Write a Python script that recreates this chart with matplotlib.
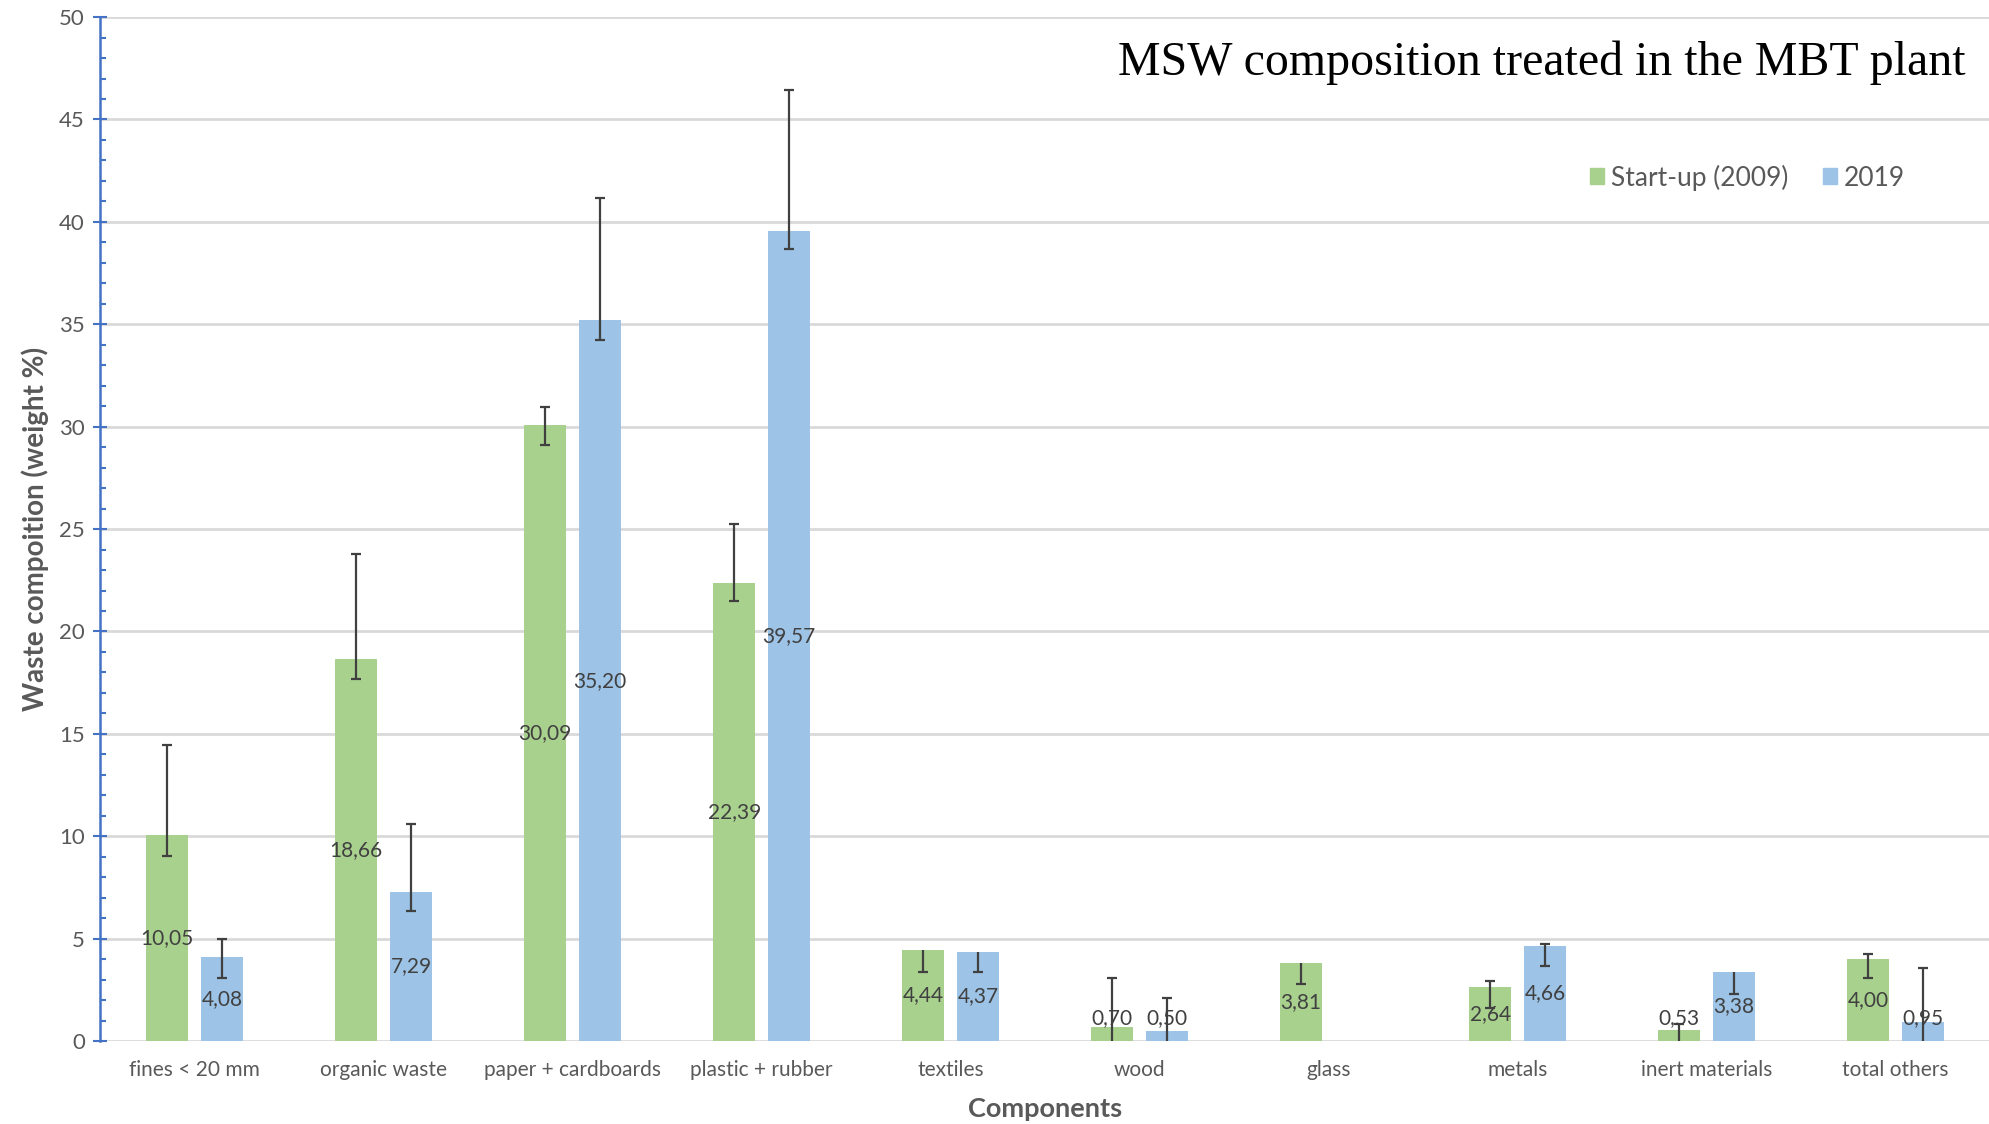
import matplotlib
matplotlib.use("Agg")
import matplotlib.pyplot as plt
from matplotlib.patches import Patch
from matplotlib.ticker import MultipleLocator
import numpy as np

# --- data ----------------------------------------------------------------- #
categories = ["fines < 20 mm", "organic waste", "paper + cardboards",
              "plastic + rubber", "textiles", "wood", "glass", "metals",
              "inert materials", "total others"]
labels_2009 = ["10,05", "18,66", "30,09", "22,39", "4,44", "0,70", "3,81",
               "2,64", "0,53", "4,00"]
labels_2019 = ["4,08", "7,29", "35,20", "39,57", "4,37", "0,50", "",
               "4,66", "3,38", "0,95"]
startup_2009 = [10.05, 18.66, 30.09, 22.39, 4.44, 0.70, 3.81, 2.64, 0.53, 4.00]
year_2019 = [4.08, 7.29, 35.20, 39.57, 4.37, 0.50, np.nan, 4.66, 3.38, 0.95]

# error bars (minus / plus), custom and asymmetric in the source
err_minus_2009 = [1.02, 0.98, 1.00, 0.92, 1.07, 0.70, 1.04, 1.03, 0.53, 0.94]
err_plus_2009 = [4.40, 5.10, 0.86, 2.86, 0.00, 2.38, 0.00, 0.29, 0.32, 0.23]
err_minus_2019 = [1.02, 0.94, 0.97, 0.88, 1.00, 0.50, np.nan, 0.98, 1.09, 0.95]
err_plus_2019 = [0.90, 3.29, 5.97, 6.86, 0.00, 1.58, np.nan, 0.09, 0.00, 2.60]

GREEN = "#A9D18E"
BLUE = "#9DC3E6"
GREY = "#595959"
DARK = "#404040"
AXIS_BLUE = "#4472C4"
SANS = "Lato"

fig = plt.figure(figsize=(19.9, 11.24), dpi=100)
ax = fig.add_axes([0.0503, 0.0738, 0.9497, 0.911])

x = np.arange(len(categories))
width = 0.222
offset = 0.145


def draw_series(xs, vals, labs, emin, eplus, color):
    vals = np.asarray(vals, float)
    ax.bar(xs, np.nan_to_num(vals), width, color=color, zorder=2)
    for xi, v, lab, em, ep in zip(xs, vals, labs, emin, eplus):
        if np.isnan(v):
            continue
        lo, hi = max(v - em, 0.0), v + ep
        ax.vlines(xi, lo, hi, color=DARK, lw=1.6, zorder=3)
        if lo > 0 and em > 0:
            ax.hlines(lo, xi - 0.025, xi + 0.025, color=DARK, lw=1.6, zorder=3)
        if ep > 0:
            ax.hlines(hi, xi - 0.025, xi + 0.025, color=DARK, lw=1.6, zorder=3)
        ax.text(xi, max(v / 2, 1.1), lab, ha="center", va="center",
                fontsize=15, color=DARK, family=SANS, zorder=4)


draw_series(x - offset, startup_2009, labels_2009, err_minus_2009, err_plus_2009, GREEN)
draw_series(x + offset, year_2019, labels_2019, err_minus_2019, err_plus_2019, BLUE)

ax.set_xlim(-0.5, 9.5)
ax.set_ylim(0, 50)
ax.yaxis.set_major_locator(MultipleLocator(5))
ax.yaxis.set_minor_locator(MultipleLocator(1))
ax.grid(axis="y", color="#D9D9D9", lw=2, zorder=0)
ax.set_axisbelow(True)

for s in ["top", "right", "bottom"]:
    ax.spines[s].set_visible(False)
ax.spines["left"].set_color(AXIS_BLUE)
ax.spines["left"].set_linewidth(1.8)

ax.tick_params(axis="y", which="major", direction="inout", length=10, width=1.5,
               color=AXIS_BLUE, labelsize=16, labelcolor=GREY, pad=6)
ax.tick_params(axis="y", which="minor", direction="in", length=4.5, width=1.5,
               color=AXIS_BLUE)
ax.tick_params(axis="x", length=0, labelsize=15, labelcolor=GREY, pad=14)
ax.set_xticks(x)
ax.set_xticklabels(categories)
for t in ax.get_xticklabels() + ax.get_yticklabels():
    t.set_family(SANS)

ax.set_xlabel("Components", fontsize=19.5, fontweight="bold", color=GREY,
              family=SANS, labelpad=12)
ax.set_ylabel("Waste compoition (weight %)", fontsize=20, fontweight="bold",
              color=GREY, family=SANS, labelpad=7)

fig.text(0.988, 0.933, "MSW composition treated in the MBT plant", ha="right",
         va="baseline", fontsize=34.5, family="Liberation Serif", color="black")

handles = [Patch(color=GREEN, label="Start-up (2009)"), Patch(color=BLUE, label="2019")]
leg = fig.legend(handles=handles, loc="center left", bbox_to_anchor=(0.787, 0.842),
                 ncol=2, frameon=False, prop={"family": SANS, "size": 19},
                 handlelength=0.55, handleheight=0.55, handletextpad=0.25,
                 columnspacing=1.3)
for t in leg.get_texts():
    t.set_color(GREY)

fig.savefig("out.png", dpi=100)
